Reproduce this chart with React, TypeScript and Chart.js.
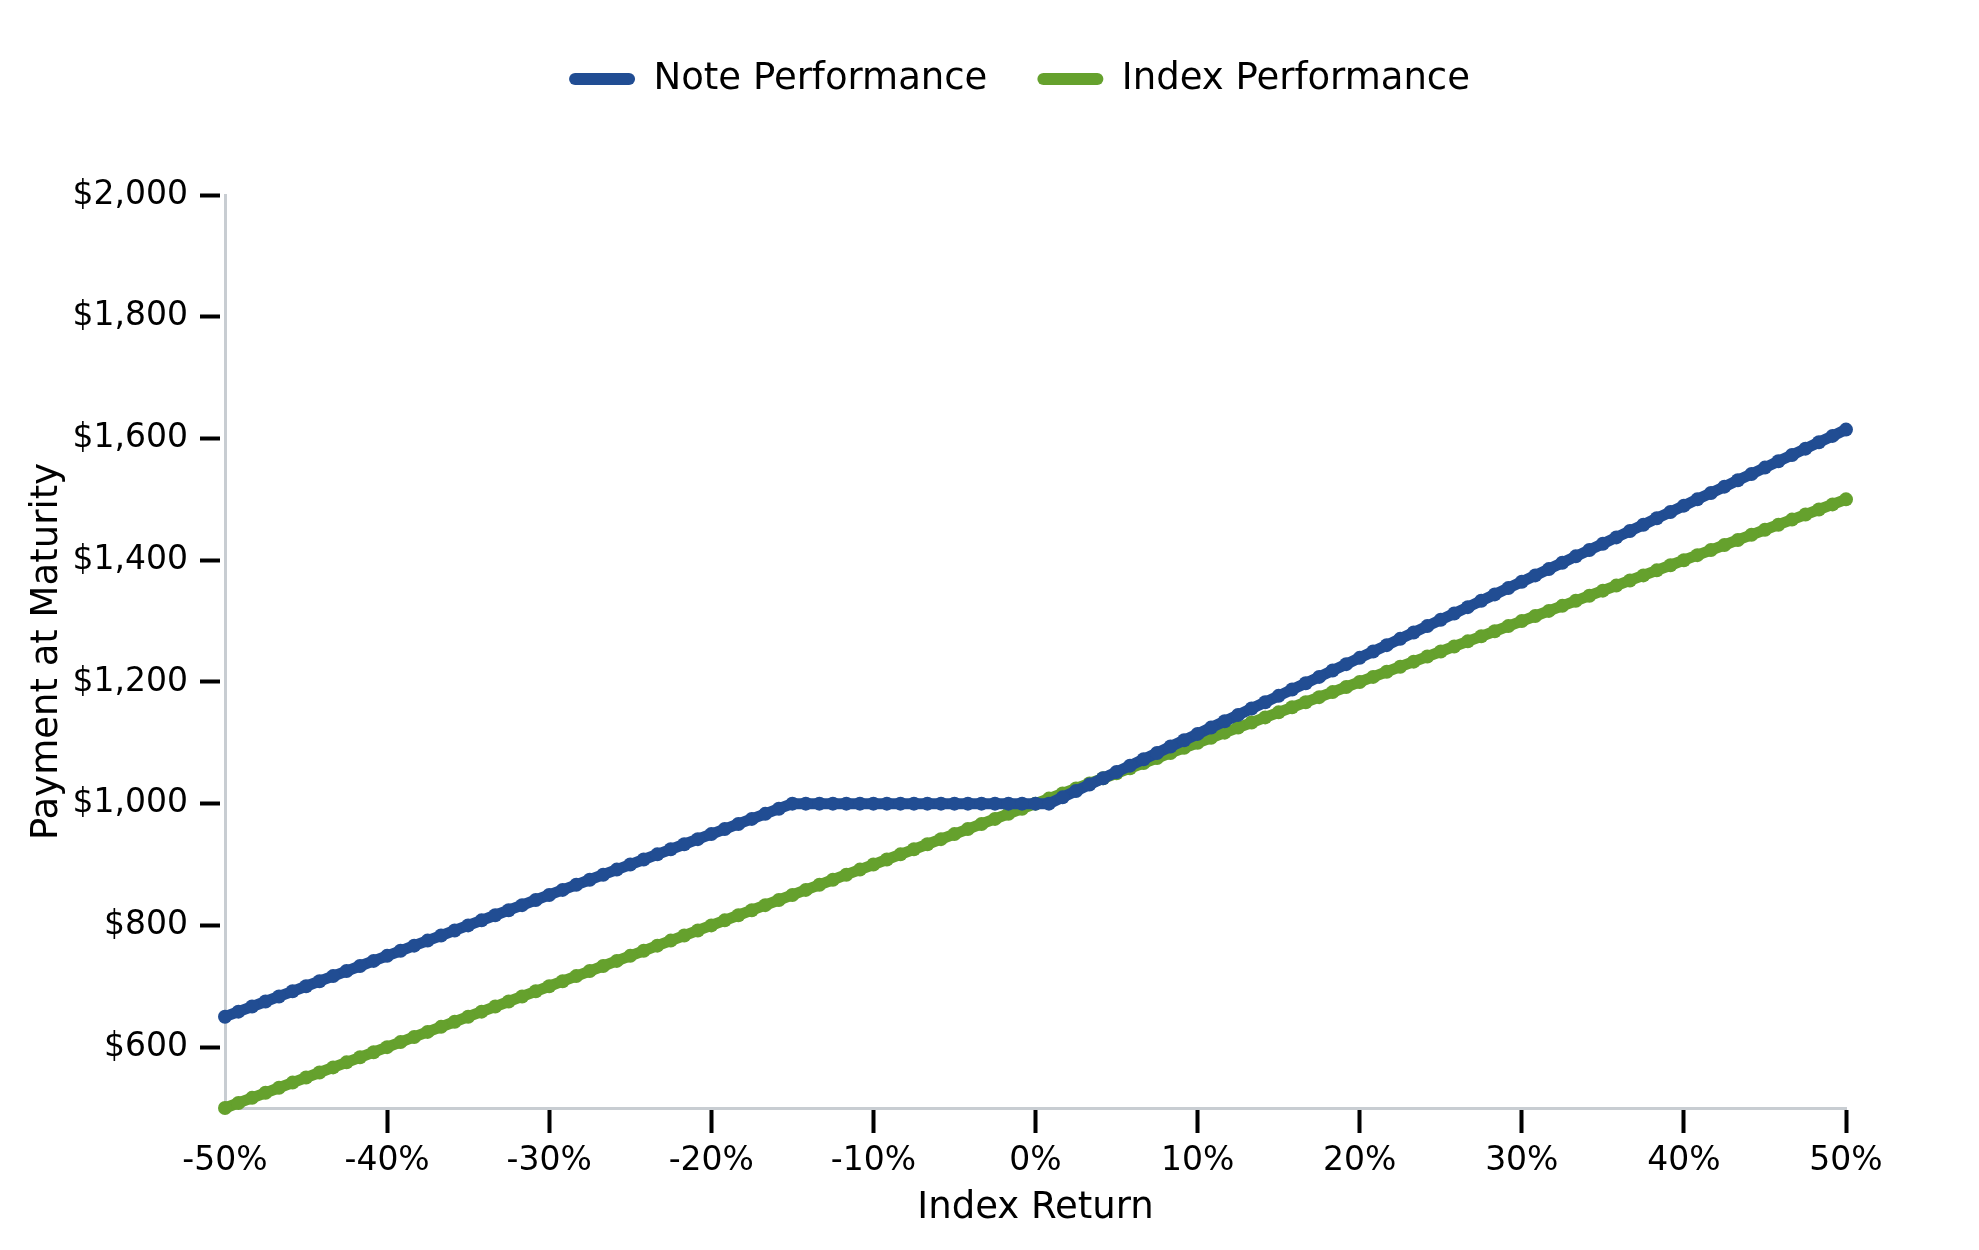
import { useEffect, useRef } from 'react'
import Chart from 'chart.js/auto'

// index return (%) for each point on the chart
const returnPct = [
  -50, -49.17, -48.33, -47.5, -46.67, -45.83,
  -45, -44.17, -43.33, -42.5, -41.67, -40.83,
  -40, -39.17, -38.33, -37.5, -36.67, -35.83,
  -35, -34.17, -33.33, -32.5, -31.67, -30.83,
  -30, -29.17, -28.33, -27.5, -26.67, -25.83,
  -25, -24.17, -23.33, -22.5, -21.67, -20.83,
  -20, -19.17, -18.33, -17.5, -16.67, -15.83,
  -15, -14.17, -13.33, -12.5, -11.67, -10.83,
  -10, -9.17, -8.33, -7.5, -6.67, -5.83,
  -5, -4.17, -3.33, -2.5, -1.67, -0.83,
  0, 0.83, 1.67, 2.5, 3.33, 4.17,
  5, 5.83, 6.67, 7.5, 8.33, 9.17,
  10, 10.83, 11.67, 12.5, 13.33, 14.17,
  15, 15.83, 16.67, 17.5, 18.33, 19.17,
  20, 20.83, 21.67, 22.5, 23.33, 24.17,
  25, 25.83, 26.67, 27.5, 28.33, 29.17,
  30, 30.83, 31.67, 32.5, 33.33, 34.17,
  35, 35.83, 36.67, 37.5, 38.33, 39.17,
  40, 40.83, 41.67, 42.5, 43.33, 44.17,
  45, 45.83, 46.67, 47.5, 48.33, 49.17,
  50,
]

const notePayment = [
  650, 658.3, 666.7, 675, 683.3, 691.7,
  700, 708.3, 716.7, 725, 733.3, 741.7,
  750, 758.3, 766.7, 775, 783.3, 791.7,
  800, 808.3, 816.7, 825, 833.3, 841.7,
  850, 858.3, 866.7, 875, 883.3, 891.7,
  900, 908.3, 916.7, 925, 933.3, 941.7,
  950, 958.3, 966.7, 975, 983.3, 991.7,
  1000, 1000, 1000, 1000, 1000, 1000,
  1000, 1000, 1000, 1000, 1000, 1000,
  1000, 1000, 1000, 1000, 1000, 1000,
  1000, 1000, 1010.4, 1020.8, 1031.3, 1041.7,
  1052.1, 1062.5, 1072.9, 1083.3, 1093.8, 1104.2,
  1114.6, 1125, 1135.4, 1145.8, 1156.3, 1166.7,
  1177.1, 1187.5, 1197.9, 1208.3, 1218.8, 1229.2,
  1239.6, 1250, 1260.4, 1270.8, 1281.3, 1291.7,
  1302.1, 1312.5, 1322.9, 1333.3, 1343.8, 1354.2,
  1364.6, 1375, 1385.4, 1395.8, 1406.3, 1416.7,
  1427.1, 1437.5, 1447.9, 1458.3, 1468.8, 1479.2,
  1489.6, 1500, 1510.4, 1520.8, 1531.3, 1541.7,
  1552.1, 1562.5, 1572.9, 1583.3, 1593.8, 1604.2,
  1614.6,
]

const indexPayment = [
  500, 508.3, 516.7, 525, 533.3, 541.7,
  550, 558.3, 566.7, 575, 583.3, 591.7,
  600, 608.3, 616.7, 625, 633.3, 641.7,
  650, 658.3, 666.7, 675, 683.3, 691.7,
  700, 708.3, 716.7, 725, 733.3, 741.7,
  750, 758.3, 766.7, 775, 783.3, 791.7,
  800, 808.3, 816.7, 825, 833.3, 841.7,
  850, 858.3, 866.7, 875, 883.3, 891.7,
  900, 908.3, 916.7, 925, 933.3, 941.7,
  950, 958.3, 966.7, 975, 983.3, 991.7,
  1000, 1008.3, 1016.7, 1025, 1033.3, 1041.7,
  1050, 1058.3, 1066.7, 1075, 1083.3, 1091.7,
  1100, 1108.3, 1116.7, 1125, 1133.3, 1141.7,
  1150, 1158.3, 1166.7, 1175, 1183.3, 1191.7,
  1200, 1208.3, 1216.7, 1225, 1233.3, 1241.7,
  1250, 1258.3, 1266.7, 1275, 1283.3, 1291.7,
  1300, 1308.3, 1316.7, 1325, 1333.3, 1341.7,
  1350, 1358.3, 1366.7, 1375, 1383.3, 1391.7,
  1400, 1408.3, 1416.7, 1425, 1433.3, 1441.7,
  1450, 1458.3, 1466.7, 1475, 1483.3, 1491.7,
  1500,
]

const xTickValues = [-50, -40, -30, -20, -10, 0, 10, 20, 30, 40, 50]
const yTickValues = [600, 800, 1000, 1200, 1400, 1600, 1800, 2000]

const NOTE_COLOR = '#214d93'
const INDEX_COLOR = '#65a12d'
const AXIS_COLOR = '#c8cdd2'
const TEXT_COLOR = '#000'
const FONT = 'DejaVu Sans'

// nudge the legend a little left of the plot centre, as in the original
const legendNudge = {
  id: 'legendNudge',
  afterLayout(chart: Chart) {
    const legend = chart.legend
    if (!legend) return
    legend.left -= 16
    legend.right -= 16
  },
}

export default function App() {
  const canvasRef = useRef<HTMLCanvasElement>(null)
  const chartRef = useRef<Chart<'line'> | null>(null)

  useEffect(() => {
    if (!canvasRef.current) return
    if (chartRef.current) chartRef.current.destroy()

    const toPoints = (values: number[]) => returnPct.map((x, i) => ({ x, y: values[i] }))

    const lineStyle = (color: string) => ({
      borderColor: color,
      backgroundColor: color,
      pointBackgroundColor: color,
      pointBorderColor: color,
      borderWidth: 11,
      pointRadius: 7,
      pointBorderWidth: 0,
      pointHoverRadius: 7,
      borderJoinStyle: 'round' as const,
      clip: false as const,
    })

    chartRef.current = new Chart(canvasRef.current, {
      type: 'line',
      data: {
        datasets: [
          { label: 'Note Performance', data: toPoints(notePayment), ...lineStyle(NOTE_COLOR) },
          { label: 'Index Performance', data: toPoints(indexPayment), ...lineStyle(INDEX_COLOR) },
        ],
      },
      plugins: [legendNudge],
      options: {
        animation: false,
        responsive: true,
        maintainAspectRatio: false,
        devicePixelRatio: 1,
        layout: { padding: { top: 10.5, right: 133, bottom: 0, left: 0 } },
        plugins: {
          legend: {
            position: 'top',
            fullSize: false,
            weight: 3000,
            labels: {
              color: TEXT_COLOR,
              font: { family: FONT, size: 37 },
              boxWidth: 66,
              boxHeight: 12,
              padding: 50,
              useBorderRadius: true,
              borderRadius: 6,
              generateLabels: (chart) =>
                Chart.defaults.plugins.legend.labels
                  .generateLabels(chart)
                  .map((item) => ({ ...item, lineWidth: 0 })),
            },
          },
          // empty title used as spacing between legend and plot
          title: {
            display: true,
            text: '',
            padding: { top: 86.5, bottom: 0 },
            font: { size: 1, lineHeight: 1 },
          },
          tooltip: { enabled: false },
        },
        scales: {
          x: {
            type: 'linear',
            min: -50,
            max: 50,
            afterBuildTicks: (scale) => {
              scale.ticks = xTickValues.map((value) => ({ value }))
            },
            afterFit: (scale) => {
              scale.height = 142
            },
            ticks: {
              color: TEXT_COLOR,
              font: { family: FONT, size: 33 },
              padding: 9,
              maxRotation: 0,
              autoSkip: false,
              callback: (v) => `${v}%`,
            },
            grid: {
              drawOnChartArea: false,
              tickLength: 25,
              tickWidth: 4,
              tickColor: (ctx) => (ctx.tick && ctx.tick.value === -50 ? 'rgba(0,0,0,0)' : TEXT_COLOR),
            },
            border: { display: true, color: AXIS_COLOR, width: 3 },
            title: {
              display: true,
              text: 'Index Return',
              color: TEXT_COLOR,
              font: { family: FONT, size: 37 },
              padding: { top: 0, bottom: 19 },
            },
          },
          y: {
            min: 500,
            max: 2000,
            afterBuildTicks: (scale) => {
              scale.ticks = yTickValues.map((value) => ({ value }))
            },
            afterFit: (scale) => {
              scale.width = 225
            },
            ticks: {
              color: TEXT_COLOR,
              font: { family: FONT, size: 33 },
              padding: 12,
              callback: (v) => '$' + Number(v).toLocaleString('en-US'),
            },
            grid: {
              drawOnChartArea: false,
              tickLength: 25,
              tickWidth: 4,
              tickColor: TEXT_COLOR,
              tickBorderDash: [20, 40],
            },
            border: { display: true, color: AXIS_COLOR, width: 3 },
            title: {
              display: true,
              text: 'Payment at Maturity',
              color: TEXT_COLOR,
              font: { family: FONT, size: 37 },
              padding: { top: 25, bottom: 0 },
            },
          },
        },
      },
    })

    return () => {
      if (chartRef.current) {
        chartRef.current.destroy()
        chartRef.current = null
      }
    }
  }, [])

  return (
    <div style={{ position: 'fixed', left: 0, top: 0, width: 1979, height: 1250, background: '#fff' }}>
      <canvas ref={canvasRef}></canvas>
    </div>
  )
}
